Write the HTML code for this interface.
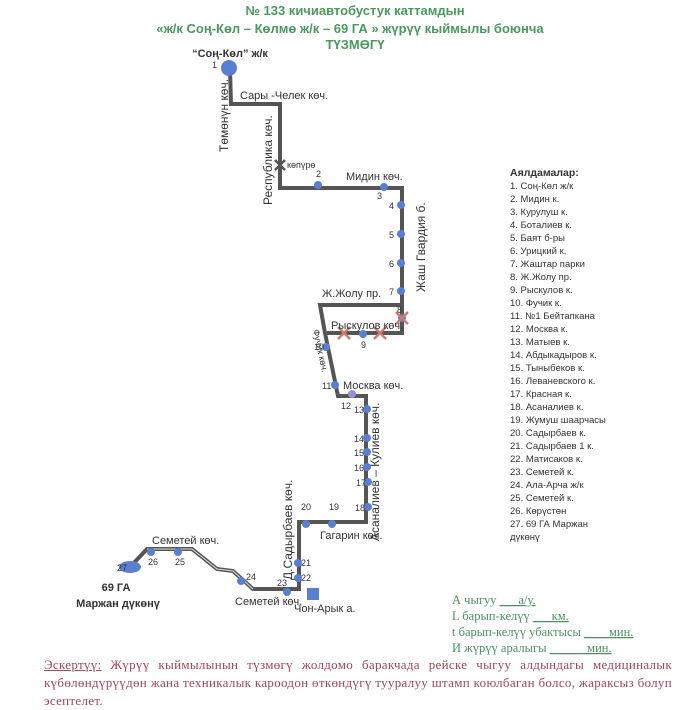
<!DOCTYPE html>
<html><head><meta charset="utf-8"><style>
html,body{margin:0;padding:0;background:#fff;}
body{width:700px;height:705px;overflow:hidden;position:relative;}
svg{position:absolute;left:0;top:0;}
.t{font-family:"Liberation Sans",sans-serif;font-size:11px;fill:#333;}
.n{font-family:"Liberation Sans",sans-serif;font-size:9px;fill:#333;}
.lg{font-family:"Liberation Sans",sans-serif;font-size:9.5px;fill:#333;}
.g{font-family:"Liberation Serif",serif;font-size:12.5px;fill:#4f8f62;}
.foot{position:absolute;left:44px;top:656px;width:628px;font-family:"Liberation Serif",serif;font-size:13px;line-height:18px;color:#a04656;text-align:justify;letter-spacing:0.3px;}
</style></head><body>
<svg width="700" height="705" viewBox="0 0 700 705">
<g font-family="Liberation Sans,sans-serif" font-weight="bold" fill="#4a9a5c" text-anchor="middle" font-size="13">
<text x="355" y="15">№ 133 кичиавтобустук каттамдын</text>
<text x="350" y="33">«ж/к Соң-Көл – Көлмө ж/к – 69 ГА » жүрүү кыймылы боюнча</text>
<text x="355" y="49">ТҮЗМӨГҮ</text>
</g>
<text x="230" y="57" font-family="Liberation Sans,sans-serif" font-weight="bold" font-size="11" fill="#333" text-anchor="middle">“Соң-Көл” ж/к</text>
<g fill="none" stroke="#555" stroke-width="4" stroke-linejoin="miter">
<polyline points="230,70 231,104 280,104 280,188 402,188 402,333 327,333"/>
<polyline points="402,305 320,305 325,333 338,396 366,396 366,522 299,522 299,589 253,589 233,571 217,569 192,549 147,549 130,567"/>
</g>
<polyline points="253,589 233,571 217,569 192,549 147,549" fill="none" stroke="#ddd" stroke-width="1"/>
<g fill="#5b7fd0">
<circle cx="229" cy="68" r="8"/>
<circle cx="318" cy="185" r="4"/><circle cx="384" cy="187" r="4"/>
<circle cx="401" cy="205" r="4"/><circle cx="401" cy="234" r="4"/><circle cx="401" cy="263" r="4"/><circle cx="401" cy="291" r="4"/>
<circle cx="402" cy="318" r="4"/><circle cx="363" cy="334" r="4"/><circle cx="326" cy="347" r="4"/>
<circle cx="335" cy="385" r="4"/><circle cx="352" cy="394" r="4" fill="#9b8fd8"/>
<circle cx="367" cy="409" r="4"/><circle cx="367" cy="438" r="4"/><circle cx="367" cy="452" r="4"/><circle cx="367" cy="467" r="4"/><circle cx="368" cy="482" r="4"/><circle cx="368" cy="507" r="4"/>
<circle cx="332" cy="524" r="4"/><circle cx="306" cy="524" r="4"/>
<circle cx="298" cy="563" r="4"/><circle cx="298" cy="578" r="4"/><circle cx="287" cy="592" r="4"/>
<circle cx="241" cy="581" r="4"/><circle cx="178" cy="552" r="4"/><circle cx="151" cy="552" r="4"/>
<ellipse cx="130" cy="567" rx="11" ry="6"/>
<rect x="307" y="588" width="12" height="12"/>
</g>
<g stroke="#555" stroke-width="2.5"><line x1="275" y1="160" x2="285" y2="170"/><line x1="285" y1="160" x2="275" y2="170"/></g>
<g stroke="#d07a70" stroke-width="2.5">
<line x1="396" y1="312" x2="408" y2="324"/><line x1="408" y1="312" x2="396" y2="324"/>
<line x1="338" y1="327" x2="350" y2="339"/><line x1="350" y1="327" x2="338" y2="339"/>
<line x1="374" y1="327" x2="386" y2="339"/><line x1="386" y1="327" x2="374" y2="339"/>
</g>
<g class="t">
<text x="240" y="99">Сары -Челек көч.</text>
<text x="346" y="180">Мидин көч.</text>
<text x="322" y="297">Ж.Жолу пр.</text>
<text x="331" y="329">Рыскулов көч.</text>
<text x="343" y="389">Москва көч.</text>
<text x="320" y="539">Гагарин көч.</text>
<text x="152" y="544">Семетей көч.</text>
<text x="235" y="605">Семетей көч.</text>
<text x="294" y="612">Чон-Арык а.</text>
<text x="287" y="168" font-size="9">көпүрө</text>
<text transform="translate(228,152) rotate(-90)" font-size="12">Төмөнүн көч.</text>
<text transform="translate(272,205) rotate(-90)" font-size="12">Республика көч.</text>
<text transform="translate(425,292) rotate(-90)" font-size="12">Жаш Гвардия б.</text>
<text transform="translate(379,541) rotate(-90)" font-size="12">Асаналиев – Кулиев көч.</text>
<text transform="translate(292,580) rotate(-90)" font-size="12">Д.Садырбаев көч.</text>
<text transform="translate(313,330) rotate(78)" font-size="9">Фучик көч.</text>
</g>
<g font-family="Liberation Sans,sans-serif" font-weight="bold" font-size="11" fill="#333" text-anchor="middle">
<text x="116" y="591">69 ГА</text><text x="118" y="607">Маржан дүкөнү</text></g>
<g class="n">
<text x="212" y="68">1</text><text x="316" y="177">2</text><text x="377" y="199">3</text>
<text x="389" y="209">4</text><text x="389" y="238">5</text><text x="389" y="267">6</text><text x="389" y="295">7</text>
<text x="397" y="313">8</text><text x="361" y="348">9</text><text x="314" y="350">10</text><text x="322" y="389">11</text>
<text x="341" y="409">12</text><text x="354" y="413">13</text><text x="354" y="442">14</text><text x="354" y="456">15</text>
<text x="354" y="471">16</text><text x="356" y="486">17</text><text x="355" y="511">18</text>
<text x="329" y="510">19</text><text x="301" y="510">20</text><text x="301" y="566">21</text><text x="301" y="581">22</text>
<text x="277" y="586">23</text><text x="246" y="580">24</text><text x="175" y="565">25</text><text x="148" y="565">26</text><text x="117" y="571">27</text>
</g>
<g class="lg">
<text x="510" y="176" font-weight="bold" font-size="10.5">Аялдамалар:</text>
<text x="510" y="189">1. Соң-Көл ж/к</text>
<text x="510" y="202">2. Мидин к.</text>
<text x="510" y="215">3. Курулуш к.</text>
<text x="510" y="228">4. Боталиев к.</text>
<text x="510" y="241">5. Баят б-ры</text>
<text x="510" y="254">6. Урицкий к.</text>
<text x="510" y="267">7. Жаштар парки</text>
<text x="510" y="280">8. Ж.Жолу пр.</text>
<text x="510" y="293">9. Рыскулов к.</text>
<text x="510" y="306">10. Фучик к.</text>
<text x="510" y="319">11. №1 Бейтапкана</text>
<text x="510" y="332">12. Москва к.</text>
<text x="510" y="345">13. Матыев к.</text>
<text x="510" y="358">14. Абдыкадыров к.</text>
<text x="510" y="371">15. Тыныбеков к.</text>
<text x="510" y="384">16. Леваневского к.</text>
<text x="510" y="397">17. Красная к.</text>
<text x="510" y="410">18. Асаналиев к.</text>
<text x="510" y="423">19. Жумуш  шаарчасы</text>
<text x="510" y="436">20. Садырбаев к.</text>
<text x="510" y="449">21. Садырбаев 1 к.</text>
<text x="510" y="462">22. Матисаков к.</text>
<text x="510" y="475">23. Семетей к.</text>
<text x="510" y="488">24. Ала-Арча ж/к</text>
<text x="510" y="501">25. Семетей к.</text>
<text x="510" y="514">26. Көрүстөн</text>
<text x="510" y="527">27. 69 ГА Маржан</text>
<text x="510" y="540">дүкөнү</text>
</g>
<g class="g">
<text x="452" y="604">А чыгуу <tspan text-decoration="underline">___а/у.</tspan></text>
<text x="452" y="620">L барып-келүү <tspan text-decoration="underline">___км.</tspan></text>
<text x="452" y="636">t барып-келүү убактысы <tspan text-decoration="underline">____мин.</tspan></text>
<text x="452" y="652">И жүрүү аралыгы <tspan text-decoration="underline">______мин.</tspan></text>
</g>
</svg>
<div class="foot"><u>Эскертүү:</u> Жүрүү кыймылынын түзмөгү жолдомо баракчада рейске чыгуу алдындагы медициналык күбөлөндүрүүдөн жана техникалык кароодон өткөндүгү тууралуу штамп коюлбаган болсо, жараксыз болуп эсептелет.</div>
</body></html>
